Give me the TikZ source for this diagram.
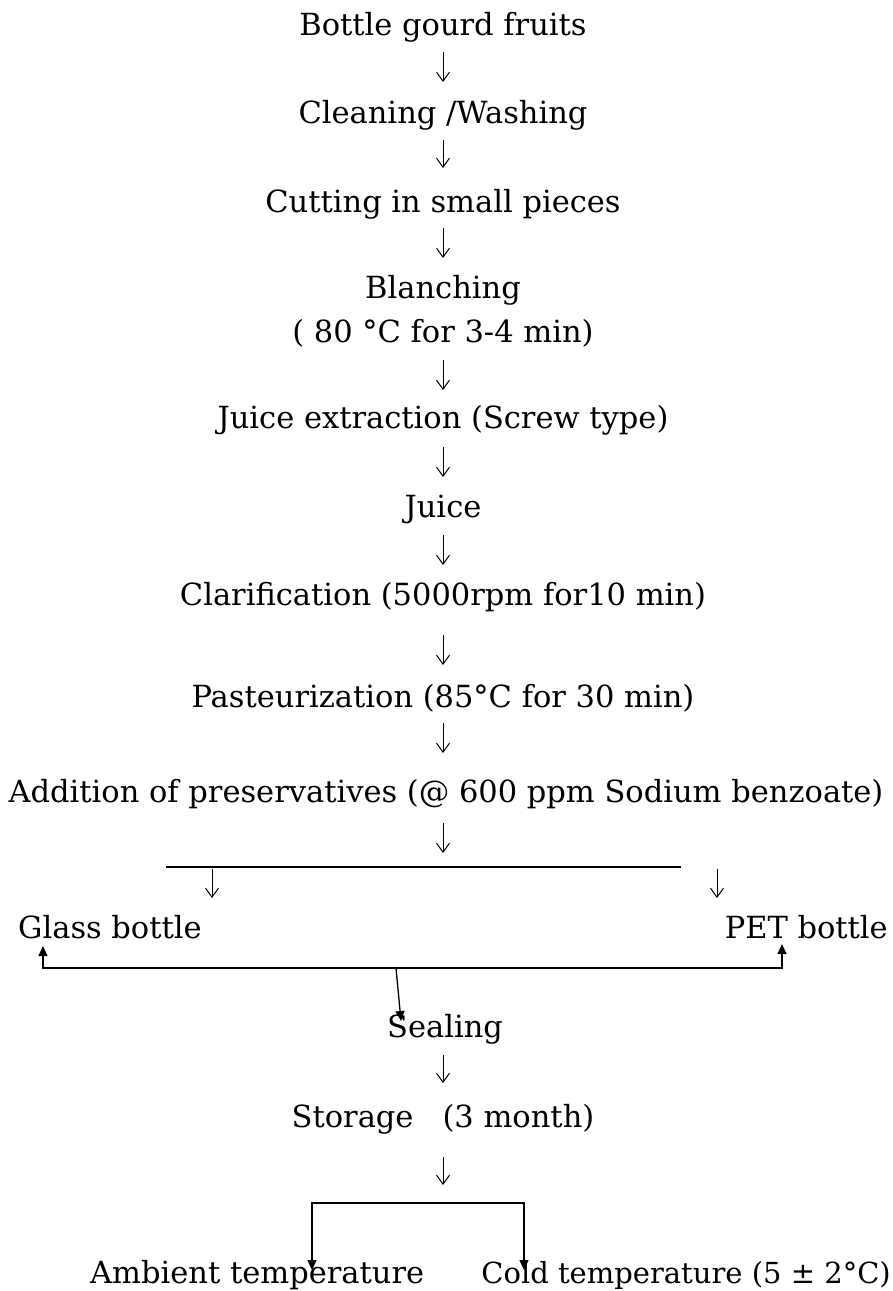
\documentclass[tikz,border=0pt]{standalone}
\usepackage{fontspec}
\setmainfont{DejaVu Serif}
\usetikzlibrary{arrows.meta,calc}
\begin{document}
\begin{tikzpicture}[x=1pt,y=-1pt,
  txt/.style={inner sep=0pt, anchor=base, font=\fontsize{30.5}{36}\selectfont},
  flow/.style={line width=1pt, -{Straight Barb[length=9pt,width=13pt]}},
  tri/.style={line width=1.3pt},
  tiphead/.style={Triangle[length=10pt,width=9pt]}]
\useasboundingbox (0,0) rectangle (893,1291);
\fill[white] (0,0) rectangle (893,1291);
% main column
\node[txt] (n1) at (443,35) {Bottle gourd fruits};
\node[txt] (n2) at (443,123) {Cleaning /Washing};
\node[txt] (n3) at (443,212) {Cutting in small pieces};
\node[txt] (n4) at (443,298) {Blanching};
\node[txt] (n4b) at (443,342) {( 80 °C for 3-4 min)};
\node[txt] (n5) at (443,428) {Juice extraction (Screw type)};
\node[txt] (n6) at (443,517) {Juice};
\node[txt] (n7) at (443,605) {Clarification (5000rpm for10 min)};
\node[txt] (n8) at (443,707) {Pasteurization (85°C for 30 min)};
\node[txt] (n9) at (446,802) {Addition of preservatives (@ 600 ppm Sodium benzoate)};
\node[txt,anchor=base west] (glass) at (18,938) {Glass bottle};
\node[txt,anchor=base east] (pet) at (888,938) {PET bottle};
\node[txt,anchor=base west] (seal) at (387,1037) {Sealing};
\node[txt] (store) at (443,1127) {Storage\ \ \ (3 month)};
\node[txt,anchor=base west] (amb) at (90,1283) {Ambient temperature};
\node[txt,anchor=base east,font=\fontsize{29}{36}\selectfont] (cold) at (891,1283) {Cold temperature (5 ± 2°C)};
% junction coordinates
\coordinate (barL) at (166,867);
\coordinate (barR) at (681,867);
\coordinate (barM) at (443,867);
\coordinate (sa1) at (212,869);
\coordinate (sa2) at (717,869);
\coordinate (gtip) at (43,946);
\coordinate (ptip) at (782,944);
\coordinate (jr) at (782,968);
\coordinate (jn) at (396,968);
\coordinate (stip) at (401,1021);
\coordinate (bm) at (443,1203);
\coordinate (bl) at (312,1203);
\coordinate (br) at (524,1203);
\coordinate (atip) at (312,1270);
\coordinate (ctip) at (524,1270);
% vertical flow arrows
\draw[flow] ($(n1.base)+(0,17)$) -- ($(n2.base)+(0,-41)$);
\draw[flow] ($(n2.base)+(0,17)$) -- ($(n3.base)+(0,-44)$);
\draw[flow] ($(n3.base)+(0,16)$) -- ($(n4.base)+(0,-40)$);
\draw[flow] ($(n4b.base)+(0,18)$) -- ($(n5.base)+(0,-38)$);
\draw[flow] ($(n5.base)+(0,19)$) -- ($(n6.base)+(0,-40)$);
\draw[flow] ($(n6.base)+(0,18)$) -- ($(n7.base)+(0,-40)$);
\draw[flow] ($(n7.base)+(0,30)$) -- ($(n8.base)+(0,-42)$);
\draw[flow] ($(n8.base)+(0,16)$) -- ($(n9.base -| n8.base)+(0,-49)$);
\draw[flow] ($(n9.base -| n8.base)+(0,21)$) -- ($(barM)+(0,-14)$);
% split bar
\draw[line width=1.4pt] (barL) -- (barR);
\draw[flow] (sa1) -- ++(0,29);
\draw[flow] (sa2) -- ++(0,29);
% bottle bracket to sealing
\draw[tri,{Triangle[length=10pt,width=9pt]}-{Triangle[length=10pt,width=9pt]}] (gtip) |- (jr) -- (ptip);
\draw[tri,-{Triangle[length=10pt,width=9pt]}] (jn) -- (stip);
% storage
\draw[flow] ($(seal.base -| n8.base)+(0,18)$) -- ($(store.base)+(0,-44)$);
\draw[flow] ($(store.base)+(0,30)$) -- ($(bm)+(0,-18)$);
\draw[tri,{Triangle[length=10pt,width=9pt]}-{Triangle[length=10pt,width=9pt]}] (atip) |- (bm) -| (ctip);
\end{tikzpicture}
\end{document}
